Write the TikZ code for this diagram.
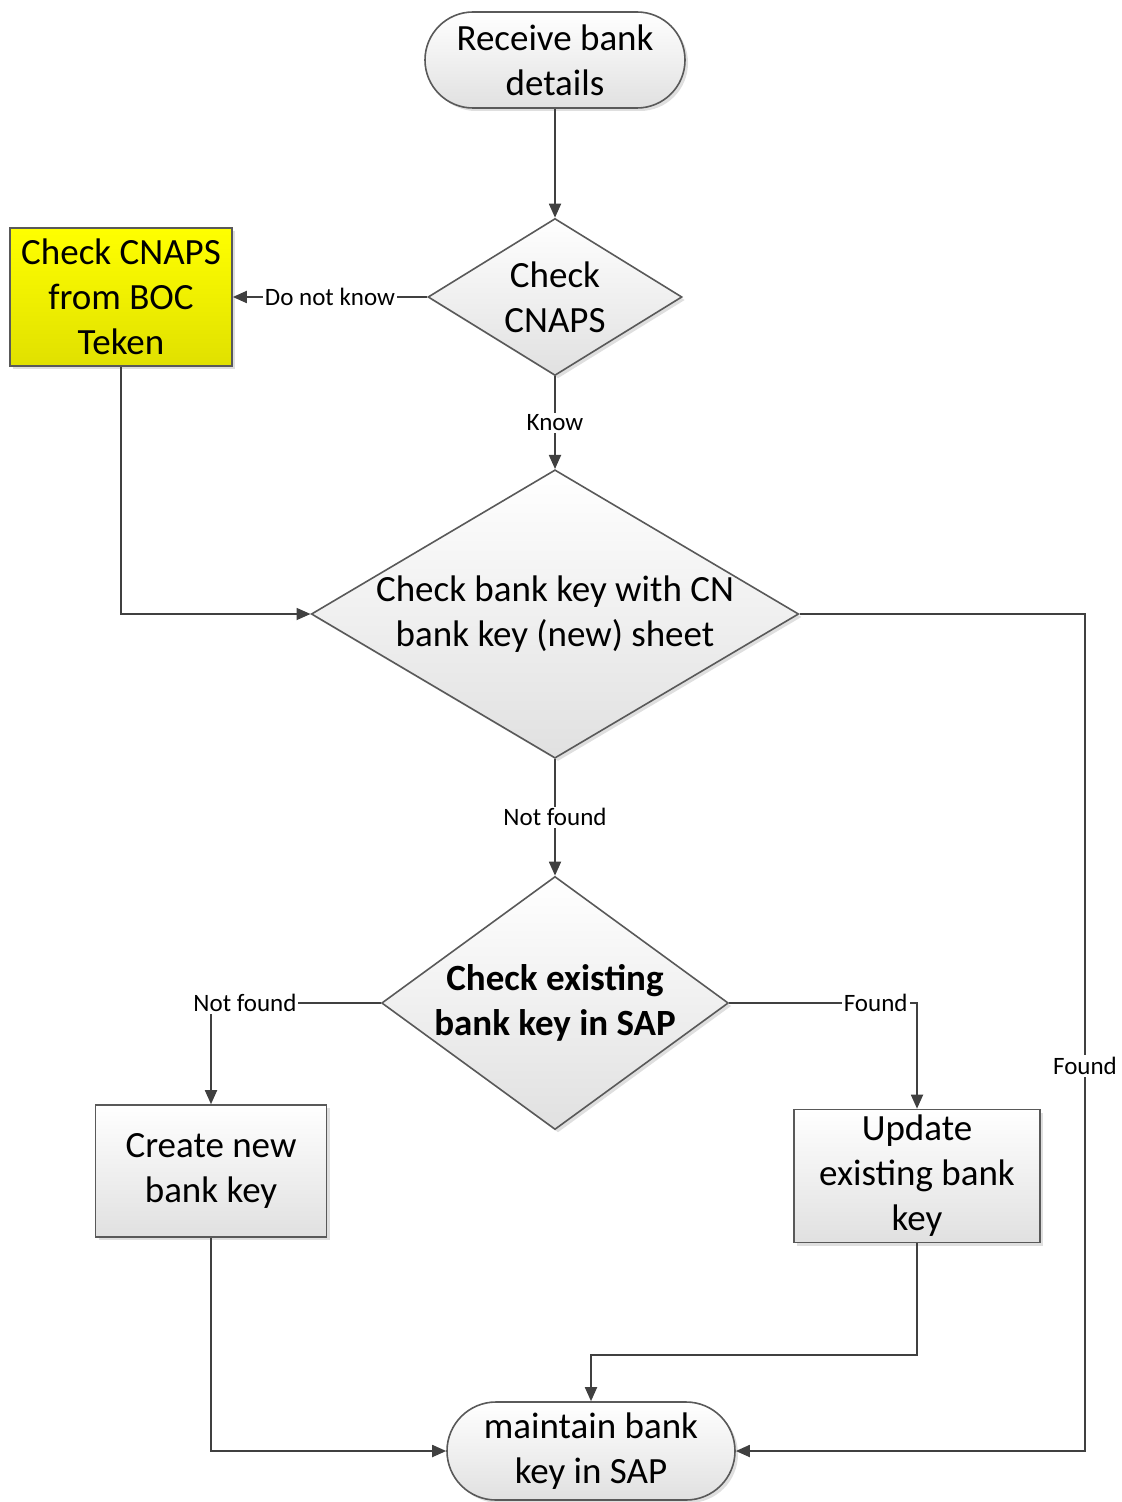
\documentclass[tikz,border=0pt]{standalone}
\usepackage{fontspec}
\setmainfont{Carlito}
\usetikzlibrary{shapes.geometric,shapes.misc,shadows,arrows.meta}

\begin{document}
\begin{tikzpicture}[x=0.5pt, y=-0.5pt,
    >={Triangle[length=7pt,width=6pt]},
    line/.style={draw=black!75, line width=0.9pt},
    base/.style={draw=black!65, line width=0.8pt, top color=white, bottom color=black!12,
      font=\fontsize{18.5}{22.5}\selectfont, align=center, inner sep=0pt,
      drop shadow={shadow xshift=1.5pt, shadow yshift=-1.5pt, opacity=0.25}},
    term/.style={base, rounded rectangle},
    proc/.style={base, rectangle},
    decision/.style={base, diamond},
    lbl/.style={fill=white, inner sep=1pt, font=\fontsize{12.5}{14}\selectfont}]
      \useasboundingbox (0,0) rectangle (1122,1502);
      % nodes
      \node[term, minimum width=130pt, minimum height=48pt] (recv) at (555,60) {Receive bank\\details};
      \node[decision, minimum width=127pt, minimum height=78.5pt, aspect=1.6] (cnaps) at (555,297) {Check\\CNAPS};
      \node[proc, minimum width=111pt, minimum height=69pt, top color=yellow,
        bottom color=yellow!88!black] (boc) at (121,297) {Check CNAPS\\from BOC\\Teken};
      \node[decision, minimum width=243pt, minimum height=144pt, aspect=1.69] (chkkey) at (555,614)
        {Check bank key with CN\\bank key (new) sheet};
      \node[decision, minimum width=172pt, minimum height=126pt, aspect=1.37,
        font=\bfseries\fontsize{18.5}{22.5}\selectfont] (exist) at (555,1003) {Check existing\\bank key in SAP};
      \node[proc, minimum width=115.5pt, minimum height=66pt] (create) at (211,1171) {Create new\\bank key};
      \node[proc, minimum width=123pt, minimum height=66.5pt] (update) at (917,1176) {Update\\existing bank\\key};
      \node[term, minimum width=144pt, minimum height=49pt] (maint) at (591,1451) {maintain bank\\key in SAP};
      % connectors
      \draw[line,->] (recv.south) -- (cnaps.north);
      \draw[line,->] (cnaps.west) -- node[lbl] {Do not know} (boc.east);
      \draw[line,->] (cnaps.south) -- node[lbl] {Know} (chkkey.north);
      \draw[line,->] (boc.south) |- (chkkey.west);
      \draw[line,->] (chkkey.south) -- node[lbl] {Not found} (exist.north);
      \draw[line,->] (exist.west) -| node[lbl,pos=0.4] {Not found} (create.north);
      \draw[line,->] (exist.east) -| node[lbl,pos=0.39] {Found} (update.north);
      \draw[line,->] (create.south) |- (maint.west);
      \draw[line,->] (update.south) -- ++(0,112) -| (maint.north);
      \draw[line,->] (chkkey.east) -- (1085,614) |- node[lbl,pos=0.27] {Found} (maint.east);
    \end{tikzpicture}
\end{document}
